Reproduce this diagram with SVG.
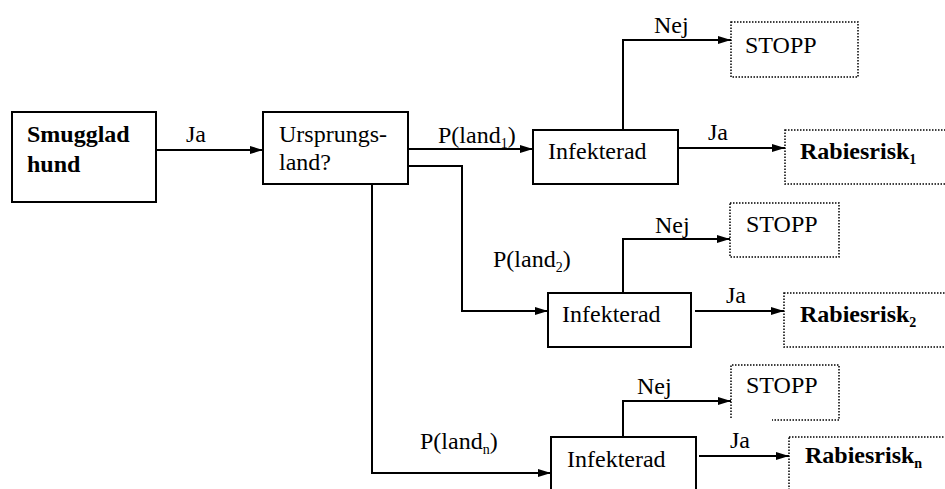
<svg xmlns="http://www.w3.org/2000/svg" width="945" height="489" viewBox="0 0 945 489">
<style>
text{font-family:'Liberation Serif','DejaVu Serif',serif;font-size:24px;fill:#000}
.b{font-weight:bold}
.box{fill:#fff;stroke:#000;stroke-width:2}
.dot{fill:#fff;stroke:#000;stroke-width:1.5;stroke-dasharray:1.5 1.5}
.c{fill:none;stroke:#000;stroke-width:2}
.s{font-size:14px}
</style>
<defs>
<marker id="ah" markerUnits="userSpaceOnUse" markerWidth="14" markerHeight="10" refX="13" refY="4.5" orient="auto">
<path d="M0,0.5 L13,4.5 L0,8.5 Z" fill="#000"/>
</marker>
</defs>
<rect width="945" height="489" fill="#fff"/>
<g id="connectors" font-family="Liberation Serif, DejaVu Serif, serif">
<path class="c" d="M156,150 H263" marker-end="url(#ah)"/>
<path class="c" d="M408,149 H533" marker-end="url(#ah)"/>
<path class="c" d="M408,166 H462 V311 H548" marker-end="url(#ah)"/>
<path class="c" d="M372,184 V473 H551" marker-end="url(#ah)"/>
<path class="c" d="M623,130 V40 H731" marker-end="url(#ah)"/>
<path class="c" d="M678,148 H785" marker-end="url(#ah)"/>
<path class="c" d="M623,293 V239 H730" marker-end="url(#ah)"/>
<path class="c" d="M695,311 H784" marker-end="url(#ah)"/>
<path class="c" d="M623,437 V401 H731" marker-end="url(#ah)"/>
<path class="c" d="M699,456 H789" marker-end="url(#ah)"/>
<text x="186" y="142">Ja</text>
<text x="438" y="143">P(land<tspan class="s" dy="5">1</tspan><tspan dy="-5">)</tspan></text>
<text x="493" y="267">P(land<tspan class="s" dy="5">2</tspan><tspan dy="-5">)</tspan></text>
<text x="420" y="449">P(land<tspan class="s" dy="5">n</tspan><tspan dy="-5">)</tspan></text>
<text x="654" y="33">Nej</text>
<text x="708" y="140">Ja</text>
<text x="655" y="233">Nej</text>
<text x="726" y="303">Ja</text>
<text x="637" y="394">Nej</text>
<text x="730" y="448">Ja</text>
</g>
<g id="smugglad">
<rect class="box" x="12" y="112" width="144" height="90"/>
<text class="b" x="27" y="142">Smugglad</text>
<text class="b" x="27" y="172">hund</text>
</g>
<g id="ursprung">
<rect class="box" x="263" y="112" width="145" height="72"/>
<text x="279" y="142">Ursprungs-</text>
<text x="279" y="170">land?</text>
</g>
<g id="inf1">
<rect class="box" x="533" y="130" width="145" height="54"/>
<text x="548" y="159">Infekterad</text>
</g>
<g id="inf2">
<rect class="box" x="548" y="293" width="143" height="54"/>
<text x="562" y="322">Infekterad</text>
</g>
<g id="inf3">
<rect class="box" x="551" y="437" width="145" height="62"/>
<text x="567" y="467">Infekterad</text>
</g>
<g id="stopp1">
<rect class="dot" x="731" y="22" width="127" height="55"/>
<text x="745" y="53">STOPP</text>
</g>
<g id="stopp2">
<rect class="dot" x="730" y="203" width="109" height="54"/>
<text x="746" y="232">STOPP</text>
</g>
<g id="stopp3">
<path class="dot" d="M731,418 V365 H839 V420 H772"/>
<text x="746" y="393">STOPP</text>
</g>
<g id="rab1">
<rect class="dot" x="785" y="130" width="200" height="54"/>
<text class="b" x="800" y="159">Rabiesrisk<tspan class="s" dy="5">1</tspan></text>
</g>
<g id="rab2">
<rect class="dot" x="784" y="293" width="200" height="54"/>
<text class="b" x="800" y="322">Rabiesrisk<tspan class="s" dy="5">2</tspan></text>
</g>
<g id="rab3">
<rect class="dot" x="789" y="437" width="200" height="62"/>
<text class="b" x="805" y="463">Rabiesrisk<tspan class="s" dy="5">n</tspan></text>
</g>
</svg>
